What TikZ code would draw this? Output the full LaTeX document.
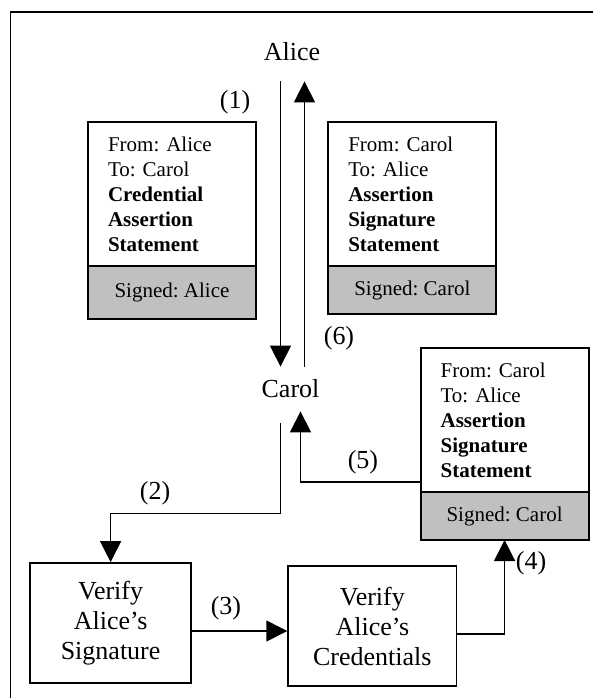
\documentclass[tikz,border=0pt]{standalone}
\usepackage{fontspec}
\setmainfont{Liberation Serif}
\frenchspacing
\usetikzlibrary{arrows.meta,positioning}
\definecolor{signgray}{RGB}{192,192,192}
\begin{document}
\begin{tikzpicture}[x=0.5pt, y=-0.5pt,
    big/.style={font=\fontsize{13}{15}\selectfont},
    party/.style={big, inner sep=0pt},
    msgbox/.style={draw, line width=0.9pt, outer sep=0pt, fill=white, anchor=north west,
      align=left, text width=64pt, inner xsep=10pt, minimum height=72pt,
      font=\fontsize{10.5}{12.5}\selectfont},
    signbox/.style={draw, line width=0.9pt, outer sep=0pt, fill=signgray,
      minimum width=84pt, minimum height=24pt, font=\fontsize{10.5}{12.5}\selectfont},
    procbox/.style={draw, line width=0.9pt, big, align=center, minimum height=60pt},
    msgarrow/.style={line width=0.7pt, -{Triangle[length=10.5pt,width=10.5pt]}}]
    \useasboundingbox (0,0) rectangle (593,698);
    % outer frame, only top and left edge are on the page
    \draw[line width=0.8pt] (610,11.7) -| (10.6,710);

    % the two parties
    \node[party, minimum height=29pt] (alice) at (292,52) {Alice};
    \node[party, minimum height=22pt] (carol) at (290.5,389) {Carol};

    % messages
    \node[msgbox] (m1) at (88,122) {From: Alice\\To: Carol\\\textbf{Credential}\\\textbf{Assertion}\\\textbf{Statement}};
    \node[signbox, minimum height=26.5pt, below=0pt of m1] (s1) {Signed: Alice};
    \node[msgbox] (m2) at (328.3,122) {From: Carol\\To: Alice\\\textbf{Assertion}\\\textbf{Signature}\\\textbf{Statement}};
    \node[signbox, below=0pt of m2] (s2) {Signed: Carol};
    \node[msgbox] (m3) at (420.6,348) {From: Carol\\To: Alice\\\textbf{Assertion}\\\textbf{Signature}\\\textbf{Statement}};
    \node[signbox, below=0pt of m3] (s3) {Signed: Carol};

    % checks done by Carol
    \node[procbox, minimum width=80.35pt] (sig) at (110.6,623) {Verify\\Alice’s\\Signature};
    \node[procbox, minimum width=84.15pt] (cred) at (372.35,626) {Verify\\Alice’s\\Credentials};

    % flow
    \draw[msgarrow] ([xshift=-5pt]carol.north |- alice.south) -- ([xshift=-5pt]carol.north);
    \draw[msgarrow] ([xshift=-5pt,yshift=-6pt]carol.south) -- ++(0,90) -| (sig.north);
    \draw[msgarrow] ([yshift=-4pt]sig.east) -- ([yshift=-4pt]sig.east -| cred.west);
    \draw[msgarrow] ([yshift=-4pt]cred.east) -| (s3.south);
    \draw[msgarrow] ([yshift=5pt]m3.south west) -| ([xshift=5pt]carol.south);
    \draw[msgarrow] ([xshift=7pt]carol.north) -- ([xshift=7pt]carol.north |- alice.south);

    % step numbers
    \node[big] (n1) at (235,102) {(1)};
    \node[big] (n2) at (155,493) {(2)};
    \node[big] (n3) at (226,608) {(3)};
    \node[big] (n4) at (531,563) {(4)};
    \node[big] (n5) at (363,462) {(5)};
    \node[big] (n6) at (339,338) {(6)};
\end{tikzpicture}
\end{document}
